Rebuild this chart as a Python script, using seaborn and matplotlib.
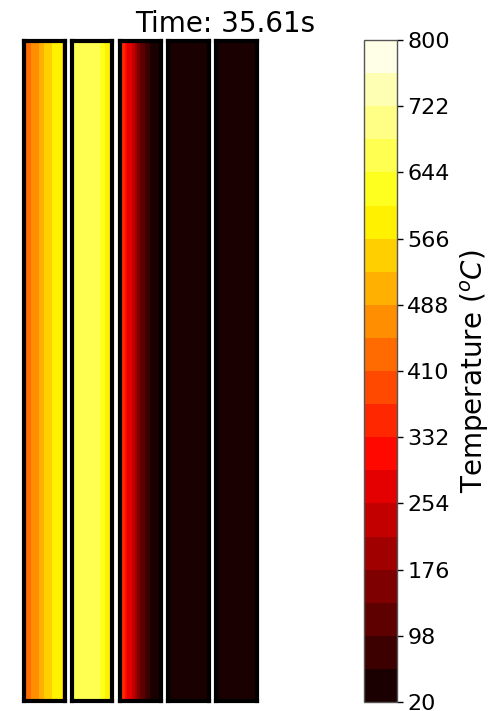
import numpy as np
import matplotlib
matplotlib.use("Agg")
import matplotlib.pyplot as plt
from matplotlib.colors import ListedColormap
import seaborn as sns

# ---- data ----
title_text = "Time: 35.61s"
t_min, t_max = 20, 800
n_levels = 20
cbar_ticks = [20, 98, 176, 254, 332, 410, 488, 566, 644, 722, 800]
cbar_label = r"Temperature ($^oC$)"

panel1 = [425, 430, 440, 455, 470, 485, 500, 515, 530, 545, 560, 572, 580, 588, 585, 565]
panel2 = [625, 650, 660, 668, 672, 675, 675, 673, 670, 665, 655, 640, 625, 600, 585, 570]
panel3 = [345, 335, 320, 290, 265, 235, 200, 165, 130, 100, 75, 60, 50, 44, 40, 38]
panel4 = [36, 36, 36, 36, 36, 36, 36, 36, 36, 36, 36, 36, 36, 36, 36, 36]
panel5 = [36, 36, 36, 36, 36, 36, 36, 36, 36, 36, 36, 36, 36, 36, 36, 36]
panels = [panel1, panel2, panel3, panel4, panel5]

# discrete "hot" colormap like contourf with 20 levels
hot = plt.get_cmap("hot")
cmap = ListedColormap([hot((k + 0.5) / n_levels) for k in range(n_levels)])

W, H = 500, 711
fig = plt.figure(figsize=(W / 100, H / 100), dpi=100)

mesh = None
for i, prof in enumerate(panels):
    left_px = 23.5 + 48 * i
    ax = fig.add_axes([left_px / W, 1 - 700.5 / H, 41 / W, 659 / H])
    data = np.array([prof, prof], dtype=float)
    sns.heatmap(data, ax=ax, cmap=cmap, vmin=t_min, vmax=t_max, cbar=False,
                xticklabels=False, yticklabels=False)
    for s in ax.spines.values():
        s.set_visible(True)
        s.set_color("black")
        s.set_linewidth(3)
    ax.set_xticks([])
    ax.set_yticks([])
    mesh = ax.collections[0]

cax = fig.add_axes([364 / W, 1 - 702 / H, 33 / W, 662 / H])
cbar = fig.colorbar(mesh, cax=cax, ticks=cbar_ticks)
cbar.outline.set_edgecolor("#555555")
cbar.outline.set_linewidth(1)
cbar.ax.tick_params(labelsize=16, length=4, width=1)
cbar.set_label(cbar_label, fontsize=20, labelpad=6)

fig.text(225 / W, 1 - 32 / H, title_text, ha="center", va="baseline", fontsize=20)

fig.savefig("out.png", dpi=100)
